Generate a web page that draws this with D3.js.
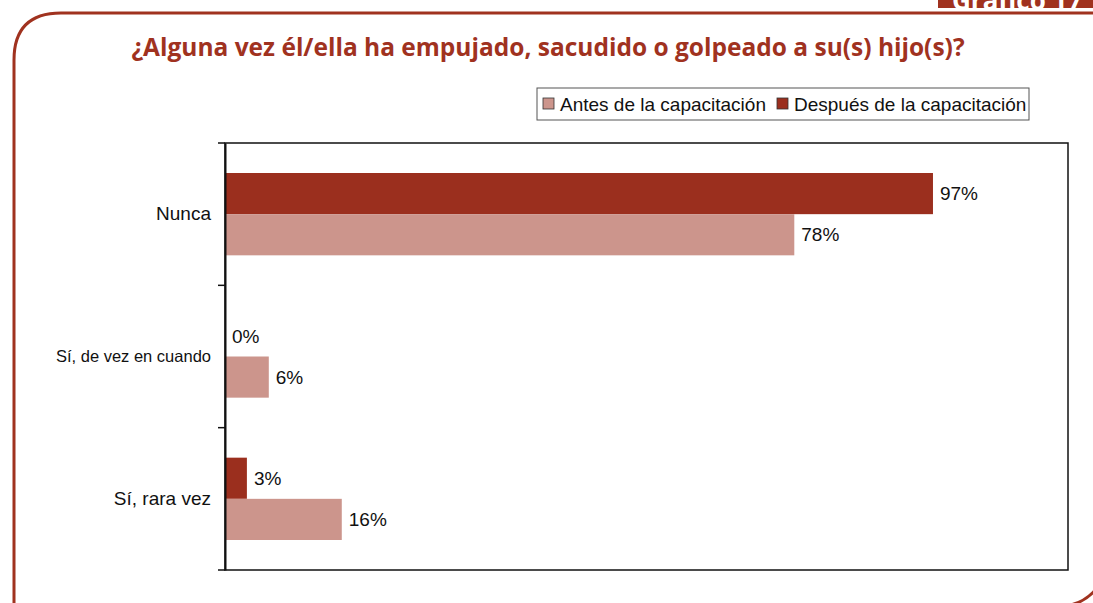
<!DOCTYPE html>
<html>
<head>
<meta charset="utf-8">
<script src="https://cdn.jsdelivr.net/npm/d3@7"></script>
<style>
  body { margin: 0; background: #fff; }
  svg { display: block; }
</style>
</head>
<body>
<div id="chart"></div>
<script>
// data
const categories = ["Nunca", "Sí, de vez en cuando", "Sí, rara vez"];
const seriesNames = ["Antes de la capacitación", "Después de la capacitación"];
const antes = [78, 6, 16];
const despues = [97, 0, 3];

const title = "¿Alguna vez él/ella ha empujado, sacudido o golpeado a su(s) hijo(s)?";
const tabLabel = "Gráfico 17";

const W = 1093, H = 603;
const red = "#a0321f", dark = "#9b2f1e", light = "#cc958c";

const svg = d3.select("#chart").append("svg")
    .attr("width", W)
    .attr("height", H);

// outer frame: rounded top-left and bottom-right corners
const fx0 = 14, fy0 = 13, fx1 = 1107, fy1 = 606, r = 47;
svg.append("path")
    .attr("d", `M${fx0},${fy1 + 20} L${fx0},${fy0 + r} Q${fx0},${fy0} ${fx0 + r},${fy0} L${fx1 + 20},${fy0}` +
               ` M${fx1},${fy0} L${fx1},${fy1 - r} A${r},${r} 0 0 1 ${fx1 - r},${fy1} L${fx0},${fy1}`)
    .attr("fill", "none")
    .attr("stroke", red)
    .attr("stroke-width", 3);

// tab in the top-right corner (cut by the page edge, as in the print)
svg.append("rect")
    .attr("x", 938).attr("y", -10)
    .attr("width", 170).attr("height", 18)
    .attr("fill", red);
svg.append("text")
    .attr("x", 952).attr("y", 10)
    .attr("fill", "#fff")
    .style("font", "bold 26px 'Open Sans', sans-serif")
    .text(tabLabel);

// title
svg.append("text")
    .attr("x", 548).attr("y", 56)
    .attr("text-anchor", "middle")
    .attr("fill", red)
    .style("font", "bold 24.5px 'Open Sans', sans-serif")
    .text(title);

// plot area
const pLeft = 225, pRight = 1068, pTop = 143, pBottom = 570;

const x = d3.scaleLinear()
    .domain([0, 115.5])
    .range([pLeft, pRight]);

const y = d3.scaleBand()
    .domain(categories)
    .range([pTop, pBottom]);

const sub = d3.scaleBand()
    .domain(["despues", "antes"])
    .range([30, y.bandwidth() - 30]);

const rows = categories.map((c, i) => ({cat: c, antes: antes[i], despues: despues[i]}));

const bars = [];
rows.forEach(d => {
    bars.push({cat: d.cat, key: "despues", v: d.despues, color: dark});
    bars.push({cat: d.cat, key: "antes", v: d.antes, color: light});
});

svg.append("g").selectAll("rect")
    .data(bars)
    .join("rect")
    .attr("x", x(0))
    .attr("y", d => y(d.cat) + sub(d.key))
    .attr("width", d => x(d.v) - x(0))
    .attr("height", sub.bandwidth())
    .attr("fill", d => d.color);

svg.append("g").selectAll("text")
    .data(bars)
    .join("text")
    .attr("x", d => x(d.v) + 7)
    .attr("y", d => y(d.cat) + sub(d.key) + sub.bandwidth() / 2)
    .attr("dy", "0.35em")
    .style("font", "19px 'Liberation Sans', Arial, sans-serif")
    .attr("fill", "#111")
    .text(d => d.v + "%");

// plot border
svg.append("rect")
    .attr("x", pLeft).attr("y", pTop)
    .attr("width", pRight - pLeft).attr("height", pBottom - pTop)
    .attr("fill", "none")
    .attr("stroke", "#111")
    .attr("stroke-width", 1.5);

// category axis
const yAxis = svg.append("g")
    .attr("transform", `translate(${pLeft},0)`)
    .call(d3.axisLeft(y).tickSize(0).tickPadding(14));
yAxis.select(".domain").attr("stroke", "#111").attr("stroke-width", 2);
yAxis.selectAll("text")
    .style("font", "19px 'Liberation Sans', Arial, sans-serif")
    .attr("fill", "#111")
    .filter(d => d === "Sí, de vez en cuando")
    .style("font-size", "16.5px");

// boundary ticks between categories
const edges = categories.map(c => y(c)).concat([pBottom]);
svg.append("g").selectAll("line")
    .data(edges)
    .join("line")
    .attr("x1", pLeft - 7).attr("x2", pLeft)
    .attr("y1", d => d).attr("y2", d => d)
    .attr("stroke", "#111")
    .attr("stroke-width", 1.5);

// legend
const lg = svg.append("g").attr("transform", "translate(537,88)");
lg.append("rect")
    .attr("width", 492).attr("height", 32)
    .attr("fill", "#fff")
    .attr("stroke", "#555")
    .attr("stroke-width", 1);
const legendItems = [
    {name: seriesNames[0], color: light, x: 6},
    {name: seriesNames[1], color: dark, x: 240}
];
const li = lg.selectAll("g.item")
    .data(legendItems)
    .join("g")
    .attr("class", "item")
    .attr("transform", d => `translate(${d.x},10)`);
li.append("rect")
    .attr("width", 11).attr("height", 11)
    .attr("fill", d => d.color)
    .attr("stroke", "#333")
    .attr("stroke-width", 0.8);
li.append("text")
    .attr("x", 17).attr("y", 6)
    .attr("dy", "0.35em")
    .style("font", "19px 'Liberation Sans', Arial, sans-serif")
    .attr("fill", "#111")
    .text(d => d.name);
</script>
</body>
</html>
